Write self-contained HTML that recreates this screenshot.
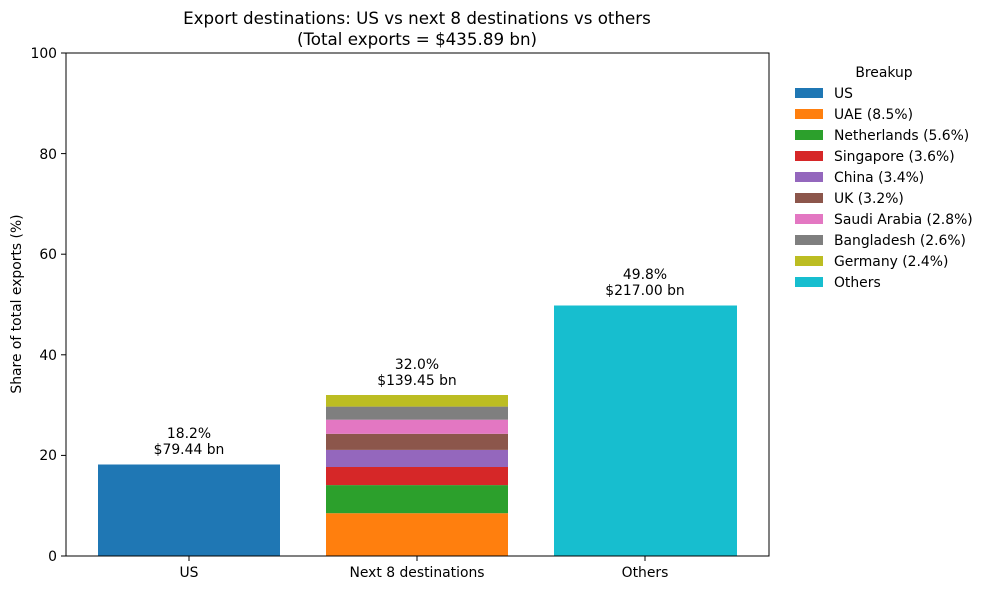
<!DOCTYPE html>
<html><head><meta charset="utf-8"><style>
body{margin:0;background:#fff;}
svg{display:block;font-family:"DejaVu Sans","Liberation Sans",sans-serif;}
</style></head><body>
<svg width="988" height="590" viewBox="0 0 988 590">
<rect width="988" height="590" fill="#fff"/>
<text x="417" y="24" text-anchor="middle" font-size="16.7" fill="#000">Export destinations: US vs next 8 destinations vs others</text>
<text x="417" y="45" text-anchor="middle" font-size="16.7" fill="#000">(Total exports = $435.89 bn)</text>
<rect x="98" y="464.5" width="182" height="91.5" fill="#1f77b4"/>
<rect x="326" y="513.2" width="182" height="42.8" fill="#ff7f0e"/>
<rect x="326" y="485.1" width="182" height="28.1" fill="#2ca02c"/>
<rect x="326" y="467" width="182" height="18.1" fill="#d62728"/>
<rect x="326" y="449.9" width="182" height="17.1" fill="#9467bd"/>
<rect x="326" y="433.8" width="182" height="16.1" fill="#8c564b"/>
<rect x="326" y="419.7" width="182" height="14.1" fill="#e377c2"/>
<rect x="326" y="406.6" width="182" height="13.1" fill="#7f7f7f"/>
<rect x="326" y="395" width="182" height="11.6" fill="#bcbd22"/>
<rect x="554" y="305.5" width="183" height="250.5" fill="#17becf"/>
<g font-size="13.9" text-anchor="middle" fill="#000">
<text x="189" y="438">18.2%</text><text x="189" y="454">$79.44 bn</text>
<text x="417" y="369">32.0%</text><text x="417" y="385">$139.45 bn</text>
<text x="645" y="279">49.8%</text><text x="645" y="295">$217.00 bn</text>
</g>
<rect x="66" y="53" width="703" height="503" fill="none" stroke="#000" stroke-width="1"/>
<g stroke="#000" stroke-width="1">
<line x1="61" y1="556" x2="66" y2="556"/><line x1="61" y1="455.4" x2="66" y2="455.4"/>
<line x1="61" y1="354.8" x2="66" y2="354.8"/><line x1="61" y1="254.2" x2="66" y2="254.2"/>
<line x1="61" y1="153.6" x2="66" y2="153.6"/><line x1="61" y1="53" x2="66" y2="53"/>
<line x1="189" y1="556" x2="189" y2="561"/><line x1="417" y1="556" x2="417" y2="561"/><line x1="645" y1="556" x2="645" y2="561"/>
</g>
<g font-size="13.9" text-anchor="end" fill="#000">
<text x="57" y="561">0</text><text x="57" y="460">20</text><text x="57" y="360">40</text>
<text x="57" y="259">60</text><text x="57" y="159">80</text><text x="57" y="58">100</text>
</g>
<g font-size="13.9" text-anchor="middle" fill="#000">
<text x="189" y="577">US</text><text x="417" y="577">Next 8 destinations</text><text x="645" y="577">Others</text>
</g>
<text transform="translate(21,304) rotate(-90)" font-size="13.9" text-anchor="middle" fill="#000">Share of total exports (%)</text>
<text x="884" y="77" font-size="13.9" text-anchor="middle" fill="#000">Breakup</text>
<g font-size="13.9" fill="#000">
<rect x="795" y="88" width="28" height="10" fill="#1f77b4"/><text x="834" y="98">US</text>
<rect x="795" y="109" width="28" height="10" fill="#ff7f0e"/><text x="834" y="119">UAE (8.5%)</text>
<rect x="795" y="130" width="28" height="10" fill="#2ca02c"/><text x="834" y="140">Netherlands (5.6%)</text>
<rect x="795" y="151" width="28" height="10" fill="#d62728"/><text x="834" y="161">Singapore (3.6%)</text>
<rect x="795" y="172" width="28" height="10" fill="#9467bd"/><text x="834" y="182">China (3.4%)</text>
<rect x="795" y="193" width="28" height="10" fill="#8c564b"/><text x="834" y="203">UK (3.2%)</text>
<rect x="795" y="214" width="28" height="10" fill="#e377c2"/><text x="834" y="224">Saudi Arabia (2.8%)</text>
<rect x="795" y="235" width="28" height="10" fill="#7f7f7f"/><text x="834" y="245">Bangladesh (2.6%)</text>
<rect x="795" y="256" width="28" height="10" fill="#bcbd22"/><text x="834" y="266">Germany (2.4%)</text>
<rect x="795" y="277" width="28" height="10" fill="#17becf"/><text x="834" y="287">Others</text>
</g>
</svg>
</body></html>
